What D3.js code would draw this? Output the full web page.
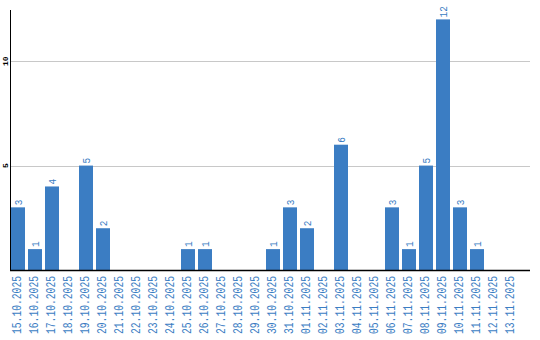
<!DOCTYPE html>
<html>
<head>
<meta charset="utf-8">
<script src="https://cdn.jsdelivr.net/npm/d3@7"></script>
<style>
  body { margin: 0; background: #fff; }
  svg text { font-family: "Liberation Mono", monospace; }
</style>
</head>
<body>
<svg id="chart" width="540" height="340"></svg>
<script>
// dates (categories) and daily counts
const dates = [
  "15.10.2025", "16.10.2025", "17.10.2025", "18.10.2025", "19.10.2025",
  "20.10.2025", "21.10.2025", "22.10.2025", "23.10.2025", "24.10.2025",
  "25.10.2025", "26.10.2025", "27.10.2025", "28.10.2025", "29.10.2025",
  "30.10.2025", "31.10.2025", "01.11.2025", "02.11.2025", "03.11.2025",
  "04.11.2025", "05.11.2025", "06.11.2025", "07.11.2025", "08.11.2025",
  "09.11.2025", "10.11.2025", "11.11.2025", "12.11.2025", "13.11.2025"
];
const counts = [
  3, 1, 4, 0, 5, 2, 0, 0, 0, 0,
  1, 1, 0, 0, 0, 1, 3, 2, 0, 6,
  0, 0, 3, 1, 5, 12, 3, 1, 0, 0
];
const yTicks = [5, 10];

const barColor = "#3b7dc3";
const plot = { left: 11, right: 530, top: 10, bottom: 270 };

const svg = d3.select("#chart");

const x = d3.scaleBand()
  .domain(dates)
  .range([plot.left, plot.left + dates.length * 17 - 3])
  .paddingInner(3 / 17)
  .paddingOuter(0);

const y = d3.scaleLinear()
  .domain([0, 12.45])
  .range([plot.bottom, plot.top]);

// <=== grid lines ===>
svg.append("g")
  .selectAll("line")
  .data(yTicks)
  .join("line")
  .attr("x1", plot.left)
  .attr("x2", plot.right)
  .attr("y1", (d) => Math.round(y(d)) + 0.5)
  .attr("y2", (d) => Math.round(y(d)) + 0.5)
  .attr("stroke", "#c8c8c8");

// <=== bars ===>
const data = dates.map((d, i) => ({ date: d, value: counts[i] }));

svg.append("g")
  .selectAll("rect")
  .data(data.filter((d) => d.value > 0))
  .join("rect")
  .attr("x", (d) => x(d.date))
  .attr("y", (d) => y(d.value))
  .attr("width", x.bandwidth())
  .attr("height", (d) => plot.bottom - y(d.value))
  .attr("fill", barColor);

// value labels
svg.append("g")
  .selectAll("text")
  .data(data.filter((d) => d.value > 0))
  .join("text")
  .attr("transform", (d) =>
    `translate(${x(d.date) + x.bandwidth() / 2 + 3.7},${y(d.value) - 2}) rotate(-90)`)
  .attr("fill", barColor)
  .style("font-size", "11px")
  .attr("textLength", (d) => String(d.value).length * 5.6)
  .attr("lengthAdjust", "spacingAndGlyphs")
  .text((d) => d.value);

// <=== axes ===>
svg.append("line")
  .attr("x1", plot.left - 0.5).attr("x2", plot.left - 0.5)
  .attr("y1", plot.top).attr("y2", plot.bottom + 1)
  .attr("stroke", "#000");

svg.append("line")
  .attr("x1", plot.left - 1).attr("x2", plot.right)
  .attr("y1", plot.bottom + 0.5).attr("y2", plot.bottom + 0.5)
  .attr("stroke", "#000")
  .attr("stroke-width", 1.5);

// x labels
svg.append("g")
  .selectAll("text")
  .data(dates)
  .join("text")
  .attr("transform", (d) =>
    `translate(${x(d) + x.bandwidth() / 2 + 3.3},${plot.bottom + 6}) rotate(-90)`)
  .attr("text-anchor", "end")
  .attr("fill", barColor)
  .style("font-size", "12px")
  .attr("textLength", 58)
  .attr("lengthAdjust", "spacingAndGlyphs")
  .text((d) => d);

// y labels
svg.append("g")
  .selectAll("text")
  .data(yTicks)
  .join("text")
  .attr("transform", (d) => `translate(7.5,${y(d)}) rotate(-90)`)
  .attr("text-anchor", "middle")
  .attr("fill", "#000")
  .style("font-size", "8px")
  .style("font-weight", "bold")
  .text((d) => d);
</script>
</body>
</html>
